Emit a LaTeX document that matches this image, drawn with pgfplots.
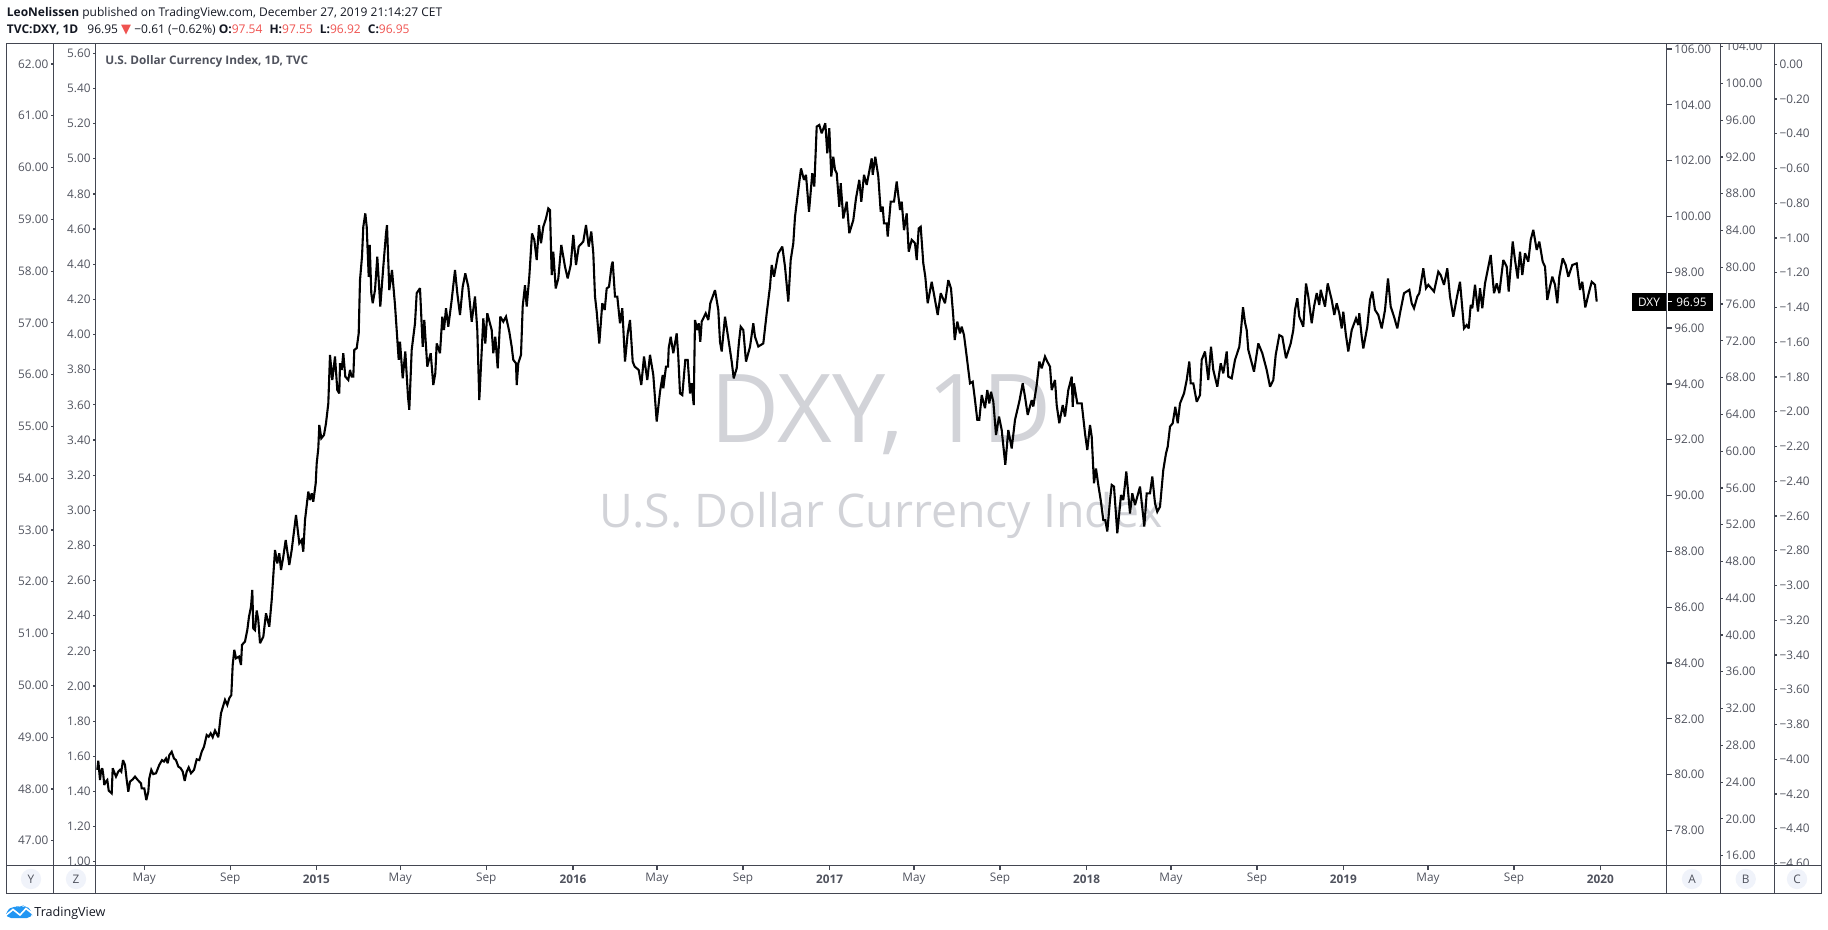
\documentclass[border=0pt]{standalone}
\usepackage{fontspec}
\setmainfont{Open Sans}
\newfontfamily\dejavu{DejaVu Sans}
\usepackage{pgfplots}
\pgfplotsset{compat=1.18}
\definecolor{framec}{HTML}{434651}
\definecolor{labelc}{HTML}{50535E}
\definecolor{headc}{HTML}{131722}
\definecolor{redc}{HTML}{EF5350}
\definecolor{markc}{HTML}{D2D3D8}
\definecolor{btnc}{HTML}{F0F3FA}
\definecolor{logoc}{HTML}{2196F3}
\newcommand{\ticksize}{\fontsize{5.9pt}{7pt}\selectfont}
\pgfplotsset{
  tvscale/.style={
    scale only axis,
    tick align=outside,
    major tick length=2.4pt,
    tick style={color=framec,line width=.6pt},
    axis line style={draw=none},
    tick label style={font=\ticksize,text=labelc},
    yticklabel style={inner sep=1.2pt,
      /pgf/number format/.cd,fixed,fixed zerofill,precision=2,assume math mode=true,1000 sep={}},
  },
  tvside/.style={
    tvscale,
    width=1pt,height=410.9pt,xmin=0,xmax=1,
    axis x line=none,
  },
}
\begin{document}
\begin{tikzpicture}[x=.5pt,y=-.5pt]
\useasboundingbox (0,0) rectangle (1828,930);

% header
\node[anchor=base west,inner sep=0,font=\fontsize{6pt}{7pt}\selectfont,text=headc] at (6.5,16.7)
  {\textbf{LeoNelissen} published on TradingView.com, December 27, 2019 21:14:27 CET};
\node[anchor=base west,inner sep=0,font=\fontsize{6pt}{7pt}\selectfont,text=headc] at (6.5,33.3)
  {\textbf{TVC:DXY, 1D}\hspace{3pt} 96.95 \textcolor{redc}{\dejavu\fontsize{6.5pt}{7pt}\selectfont ▼} −0.61 (−0.62\%) \textbf{O:}\textcolor{redc}{97.54}\hspace{2pt} \textbf{H:}\textcolor{redc}{97.55}\hspace{2pt} \textbf{L:}\textcolor{redc}{96.92}\hspace{2pt} \textbf{C:}\textcolor{redc}{96.95}};

% watermark
\node[anchor=base,inner sep=0,font=\fontsize{47.5pt}{50pt}\selectfont,text=markc] at (881,442.7) {DXY, 1D};
\node[anchor=base,inner sep=0,font=\fontsize{23.2pt}{26pt}\selectfont,text=markc] at (881,528) {U.S. Dollar Currency Index};
\node[anchor=base west,inner sep=0,font=\bfseries\fontsize{5.9pt}{7pt}\selectfont,text=labelc] at (105,65)
  {U.S. Dollar Currency Index, 1D, TVC};

% left scales
\begin{scope}
\clip (6.5,43.5) rectangle (53.5,865.3);
\begin{axis}[tvside,at={(26.75pt,-432.65pt)},anchor=south west,
  axis y line=left,ymin=46.525,ymax=62.396,ytick distance=1]
\end{axis}
\end{scope}
\begin{scope}
\clip (53.5,43.5) rectangle (95.7,865.3);
\begin{axis}[tvside,at={(47.85pt,-432.65pt)},anchor=south west,
  axis y line=left,ymin=0.980,ymax=5.656,ytick distance=0.2]
\end{axis}
\end{scope}

% right scales
\begin{scope}
\clip (1720.3,43.5) rectangle (1774.3,865.3);
\begin{axis}[tvside,at={(860.15pt,-432.65pt)},anchor=south east,
  axis y line=right,ymin=14.95,ymax=104.348,ytick distance=4]
\end{axis}
\end{scope}
\begin{scope}
\clip (1774.3,43.5) rectangle (1821.7,865.3);
\begin{axis}[tvside,at={(887.15pt,-432.65pt)},anchor=south east,
  axis y line=right,ymin=-4.611,ymax=0.1197,
  ytick={0,-0.2,-0.4,-0.6,-0.8,-1,-1.2,-1.4,-1.6,-1.8,-2,-2.2,-2.4,-2.6,-2.8,-3,-3.2,-3.4,-3.6,-3.8,-4,-4.2,-4.4,-4.6},
  yticklabels={0.00,−0.20,−0.40,−0.60,−0.80,−1.00,−1.20,−1.40,−1.60,−1.80,−2.00,−2.20,−2.40,−2.60,−2.80,−3.00,−3.20,−3.40,−3.60,−3.80,−4.00,−4.20,−4.40,−4.60}]
\end{axis}
\end{scope}

% main panel: x is the chart position, y the DXY close on scale A
\begin{axis}[tvscale,
  at={(47.85pt,-432.65pt)},anchor=south west,
  width=785.5pt,height=410.9pt,
  xmin=95.7,xmax=1666.7,ymin=76.752,ymax=106.197,
  axis x line*=bottom,axis y line*=right,
  ytick distance=2,
  xtick={144.3,230.3,316.3,400.3,486.3,573,657,743,829.7,914,1000,1086.5,1171,1257,1343.3,1428,1514,1600.3},
  xticklabels={May,Sep,\textbf{2015},May,Sep,\textbf{2016},May,Sep,\textbf{2017},May,Sep,\textbf{2018},May,Sep,\textbf{2019},May,Sep,\textbf{2020}},
  xticklabel style={anchor=center,yshift=-4.4pt,inner sep=0},
]
\addplot[black,line width=1.05pt,line join=miter,miter limit=3] coordinates {
(97.3,80.17)(98.3,80.50)(100,79.81)(101,80.11)(102.3,80.23)(103.3,79.99)(104.3,79.63)(105.7,79.75)(107.3,79.81)(108.7,79.43)
(111.7,79.33)(112.7,80.23)(114,80.11)(116,79.93)(118.3,80.11)(120,80.17)(121.3,80.11)(123,80.52)(125,80.35)(126.7,79.81)
(128.3,79.39)(130,79.75)(132.7,79.83)(135,79.93)(137.7,79.81)(141,79.69)(141.7,79.51)(144.3,79.51)(146.3,79.09)(148.3,79.39)
(149.3,79.87)(151.3,80.17)(153.3,80.02)(156,80.05)(159.3,80.35)(162,80.52)(164,80.47)(166,80.58)(167.7,80.41)(169.3,80.70)
(171.7,80.82)(174,80.58)(176,80.52)(178.3,80.29)(180.7,80.23)(182.7,80.11)(184.7,79.78)(186.7,80.11)(188.7,80.26)(191,80.05)
(194,80.17)(196.7,80.55)(199.3,80.52)(201.7,80.82)(204,81.00)(206.7,81.42)(208.7,81.36)(210.7,81.48)(212.7,81.34)(215,81.58)
(218.3,81.34)(221,82.20)(225,82.68)(227.3,82.50)(229.3,82.74)(231.3,82.85)(232.7,83.93)(234.3,84.47)(236,84.17)(239,84.23)
(241,83.93)(242,84.65)(245,84.77)(247.3,85.18)(249,85.66)(251,86.02)(252.3,86.62)(253.3,85.24)(255,85.18)(256.7,85.88)
(258.3,85.54)(260,84.71)(263.3,84.94)(266,85.78)(269.3,85.30)(271.7,86.26)(275,88.05)(277.3,87.57)(279.3,87.93)(281,87.33)
(283.3,87.81)(285.7,88.41)(289.3,87.51)(291.7,88.05)(296,89.30)(299.3,88.29)(301.7,88.41)(303.3,87.99)(305,89.12)(308.3,90.14)
(310,89.84)(311.7,90.08)(313.3,89.78)(315.7,90.44)(316.7,91.15)(318.3,91.69)(319.3,92.53)(321.3,92.05)(324,92.17)(326,92.59)
(328.3,93.30)(330,95.04)(332.3,94.14)(335,94.98)(337.3,93.78)(339.3,93.66)(340,94.74)(341.7,94.50)(343.3,95.10)(345.3,94.26)
(348.3,94.14)(350,94.50)(351.7,94.26)(353.3,94.26)(354.3,95.22)(356.7,95.28)(358.7,95.81)(360,97.72)(362,98.56)(363.3,99.63)
(365.3,100.11)(366.7,99.63)(368.7,97.84)(369.7,98.98)(371.3,97.25)(372.7,96.89)(375,97.36)(377.3,98.56)(380.3,96.77)(383.3,98.20)
(386,99.39)(387,99.69)(389.3,97.36)(392,98.08)(395,96.83)(398.7,94.86)(400,95.51)(402.7,94.20)(405.3,95.16)(408,93.54)
(409.3,93.07)(411.7,95.22)(415,96.17)(416.7,97.25)(420,97.43)(422.7,95.33)(424.3,96.29)(427.3,94.62)(430.7,95.10)(433.3,93.96)
(435.3,94.38)(436.7,95.45)(440,95.10)(442.3,96.41)(444,95.93)(446,96.71)(448.3,96.05)(451.7,97.01)(455,98.08)(457.3,97.25)
(460,96.47)(462.7,97.48)(465.3,97.96)(468.3,97.48)(471.7,96.23)(475,97.13)(477.3,95.93)(479.3,93.42)(483.3,96.35)(485.3,95.45)
(487.3,96.53)(491.7,95.93)(493.3,95.10)(495.3,95.69)(497.7,94.56)(500.3,96.41)(503.3,96.23)(506,96.41)(509.3,95.87)(511.7,95.33)
(513.3,94.86)(516,94.74)(516.7,93.96)(518.3,94.74)(521,95.04)(522.7,96.77)(525,97.54)(526.7,96.77)(529.3,97.84)(532,99.39)
(534.3,99.16)(536.7,98.44)(539,99.69)(541,99.04)(543.3,99.63)(546,99.93)(548.3,100.29)(550,100.23)(551.7,97.90)(553.3,98.74)
(555.7,97.42)(558.3,97.78)(561.3,98.98)(565,98.20)(567.7,97.78)(570.7,98.26)(573.3,99.34)(576,98.26)(578.7,98.92)(583.3,99.10)
(586,99.69)(588.7,98.92)(591.3,99.46)(593.3,98.68)(595,97.13)(596.7,96.59)(599.3,95.45)(602.3,96.89)(604.7,96.65)(606.7,97.42)
(609,97.48)(611.7,98.26)(612.7,98.38)(615,97.13)(617.3,97.13)(620,96.17)(622.3,96.71)(625,94.80)(627.7,95.81)(630,96.29)
(632.7,94.80)(634.7,94.62)(638.7,94.50)(641.3,93.96)(644,94.98)(647.3,94.14)(650,95.04)(653.3,94.32)(656.7,92.65)(660,93.72)
(662.7,94.32)(663.3,93.84)(666,94.62)(668,94.62)(668.7,95.28)(670.7,95.69)(673.3,95.10)(676.7,95.81)(678.3,94.98)(680,93.66)
(682.3,93.60)(685.3,94.86)(687.7,94.86)(690,93.66)(691.7,94.02)(693.7,93.24)(695,96.29)(697.3,95.93)(698.7,96.17)(700.3,95.51)
(701.7,96.23)(705.7,96.53)(708.3,96.29)(710.3,96.89)(715,97.36)(718.3,96.65)(720,95.51)(721.7,95.16)(725,96.41)(728.3,95.63)
(731.7,94.80)(733.7,94.20)(736.7,94.56)(739,95.51)(740.7,96.05)(743.3,95.93)(746,94.80)(750,95.33)(753.3,96.17)(755,95.69)
(758.3,95.34)(763.3,95.45)(766.7,96.53)(770,97.49)(771.7,98.26)(774,97.84)(778.3,98.68)(782.3,98.92)(785,98.20)(788.3,96.95)
(790.7,98.44)(793.3,99.04)(795,99.99)(798.3,100.95)(801,101.72)(804,101.31)(806,101.49)(809,100.17)(810,100.59)(812.3,101.55)
(814.3,101.07)(816.7,103.22)(819.3,103.28)(821.7,102.98)(825.3,103.34)(827.3,102.26)(829.3,103.16)(831.3,101.43)(833.3,102.14)(835,101.67)
(836.7,101.55)(839.3,100.35)(840.7,101.19)(843.3,99.93)(846.7,100.53)(849.3,99.40)(853.3,99.87)(856,100.65)(859.3,101.31)(861.3,100.53)
(864,101.49)(866.7,101.13)(871.7,102.08)(872.7,101.49)(875.3,102.14)(878.3,101.43)(880.7,100.17)(882.7,100.35)(884,99.75)(886.7,99.75)
(887.7,99.28)(890.7,100.53)(894,100.53)(896.7,101.25)(900,100.23)(901.7,100.53)(904,99.51)(906.7,100.11)(908.7,98.74)(911.7,99.16)
(915,99.04)(916.7,98.44)(918.7,99.57)(920.7,99.63)(923.3,98.32)(925.3,97.84)(927.7,96.89)(931.7,97.66)(935,97.01)(937.7,96.47)
(940.7,97.25)(945,96.89)(948.3,97.72)(951,97.42)(953.3,96.41)(954.7,95.57)(957.3,96.23)(960,95.81)(961.7,96.05)(964,95.75)
(966.7,94.98)(970,94.02)(972.7,94.08)(975,93.42)(977.3,92.71)(979.3,92.71)(981.7,93.60)(985,93.13)(987.3,93.78)(989.3,93.30)
(991,93.72)(993.3,93.37)(996,92.17)(999,92.83)(1001.7,92.35)(1005.3,91.10)(1008.3,92.35)(1011.7,91.69)(1015,92.71)(1019.3,93.37)
(1022.7,94.02)(1025,93.54)(1027.7,92.89)(1031.7,93.42)(1033.3,93.19)(1036.7,93.96)(1039.3,94.80)(1041.7,94.56)(1045,94.98)(1047.3,94.80)
(1050,94.62)(1051.7,93.78)(1055,94.14)(1056.7,93.24)(1059.3,92.59)(1062.7,93.24)(1065,92.83)(1068.3,93.78)(1071.7,94.26)(1072.7,93.18)
(1074,94.02)(1077.3,93.30)(1081.7,93.30)(1085,92.23)(1087.3,91.63)(1090,92.53)(1091.7,92.11)(1094,90.44)(1096,90.97)(1098.3,90.38)
(1100.7,89.84)(1103.3,89.12)(1105.3,89.12)(1107.3,88.71)(1110,89.84)(1111.7,90.38)(1114,90.32)(1117.3,88.65)(1121,90.02)(1123.3,89.84)
(1126.3,90.86)(1130,89.36)(1132.3,90.08)(1135,89.66)(1140,90.32)(1144.3,88.89)(1146.7,90.08)(1150,90.08)(1152.3,90.68)(1155,89.72)
(1157.3,89.42)(1160,89.60)(1163.3,90.92)(1166,91.51)(1167.7,91.75)(1170,92.47)(1172.7,92.59)(1175.3,93.18)(1177.7,92.59)(1180,93.30)
(1184,93.66)(1186.7,94.14)(1189.3,94.80)(1190.7,94.02)(1193.3,94.02)(1196.7,93.36)(1200,93.60)(1201.7,94.86)(1205,95.16)(1208.3,94.14)
(1211,95.33)(1213.3,94.50)(1217.3,93.90)(1220.7,94.74)(1223.3,94.38)(1226.7,95.16)(1228.3,94.26)(1231.7,94.20)(1235,94.86)(1239.3,95.33)
(1241,95.93)(1243,96.75)(1245,96.20)(1246.7,95.93)(1248.3,95.22)(1254,94.44)(1258.3,95.45)(1262.3,95.10)(1266.7,94.50)(1270,93.90)
(1273.3,94.14)(1275.7,95.04)(1279.3,95.75)(1282.3,95.69)(1286,94.92)(1290.7,95.45)(1293.3,95.93)(1295,96.65)(1297.3,97.07)(1299.3,96.41)
(1303.3,96.05)(1306,97.60)(1308.3,97.13)(1311.7,96.17)(1314,96.77)(1316.7,97.25)(1319.3,96.83)(1320.7,97.37)(1325,96.77)(1327.7,97.60)
(1331.7,97.01)(1334.3,96.47)(1336.7,96.89)(1339.3,96.53)(1341.7,95.99)(1343.3,96.59)(1345.7,95.81)(1348.3,95.16)(1351.7,95.93)(1356,96.35)
(1358.3,96.11)(1359.3,96.53)(1361.7,95.69)(1363.3,95.27)(1367.3,96.05)(1370,97.01)(1372.3,97.31)(1375,96.65)(1378.3,96.47)(1381.7,95.99)
(1385,96.65)(1388,97.78)(1390.7,96.77)(1394,96.41)(1397.3,95.99)(1400,96.53)(1404,97.25)(1406.7,97.31)(1409.3,97.37)(1411.7,96.89)
(1414,96.71)(1417.3,97.13)(1419.3,97.25)(1423.3,98.14)(1426,97.43)(1428.3,97.55)(1434,97.31)(1438.3,98.02)(1440.7,97.90)(1444,97.55)
(1447.3,98.14)(1450,97.13)(1453.3,96.41)(1456.7,97.07)(1460,97.66)(1464,95.99)(1466.7,96.11)(1468.7,95.99)(1470.7,96.83)(1472.3,96.71)
(1475,97.55)(1478,96.59)(1480,97.43)(1482.3,96.71)(1485,97.60)(1490.7,98.62)(1494,97.25)(1496.7,97.60)(1499.3,97.25)(1503.3,98.44)
(1506.7,98.20)(1508.7,97.31)(1512.7,99.10)(1515,98.44)(1517.7,97.78)(1520,98.74)(1522.3,97.90)(1525,98.68)(1528.3,98.38)(1530.7,99.16)
(1533.3,99.52)(1536.7,98.80)(1539.3,99.10)(1542.7,98.38)(1545,98.20)(1547.3,97.01)(1550,97.49)(1552.3,97.84)(1555,97.55)(1557.3,96.89)
(1559.3,97.84)(1562.7,98.50)(1565.7,98.26)(1568.3,97.84)(1572.3,98.26)(1576.7,98.32)(1580,97.37)(1582.3,97.66)(1585.3,96.74)(1588.3,97.19)
(1591.7,97.66)(1595,97.55)(1596.7,96.95)
};
\end{axis}

% panel frame
\draw[framec,line width=.75pt] (6.5,43.5) rectangle (1821.7,893.3);
\draw[framec,line width=.75pt] (6.5,865.3) -- (1821.7,865.3);
\foreach \xx in {53.5,95.7,1666.7,1720.3,1774.3}
  \draw[framec,line width=.75pt] (\xx,43.5) -- (\xx,893.3);

% last price tag
\fill[black] (1632,293.3) rectangle (1665.6,310.7);
\fill[black] (1667.6,293.3) rectangle (1713,310.7);
\draw[white,line width=.6pt] (1667.6,301.6) -- (1672,301.6);
\node[font=\ticksize,text=white,inner sep=0] at (1649,302) {DXY};
\node[font=\ticksize,text=white,inner sep=0] at (1691.5,302) {96.95};

% scale buttons
\foreach \xx/\lab in {31/Y,76/Z,1692/A,1745.7/B,1797/C}{
  \fill[btnc] (\xx,879) circle (10.2);
  \node[font=\ticksize,text=labelc,inner sep=0] at (\xx,879) {\lab};
}

% logo
\fill[logoc,rounded corners=2.5pt] (6,918) -- (6,911) -- (14,905.5) -- (20,908) -- (25,904.5) -- (32,911) -- (32,918) -- cycle;
\draw[white,line width=.8pt] (5,916) -- (13,909.5) -- (20,915) -- (26,908.5) -- (33,914);
\node[anchor=base west,inner sep=0,font=\fontsize{6.3pt}{7pt}\selectfont,text=headc] at (34,916) {TradingView};
\end{tikzpicture}
\end{document}
